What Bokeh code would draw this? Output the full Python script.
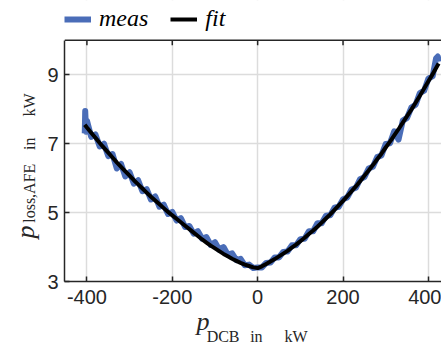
from bokeh.plotting import figure
from bokeh.models import (Range1d, LinearAxis, Legend, LegendItem, FixedTicker, Span,
                          BoxAnnotation, NumeralTickFormatter)
from bokeh.embed import file_html
from bokeh.resources import INLINE

# ---- data ----
meas_p = [-405, -404, -402, -400, -390, -380, -370, -360, -350, -340, -330, -320, -310, -300,
          -290, -280, -270, -260, -250, -240, -230, -220, -210, -200, -190, -180, -170, -160,
          -150, -140, -130, -120, -110, -100, -90, -80, -70, -60, -50, -40, -30, -20, -10, 0,
          10, 20, 30, 40, 50, 60, 70, 80, 90, 100, 110, 120, 130, 140, 150, 160, 170, 180, 190,
          200, 210, 220, 230, 240, 250, 260, 270, 280, 290, 300, 310, 320, 330, 340, 350, 360,
          370, 380, 390, 400, 410, 418, 422, 424]
meas_v = [7.30, 7.95, 7.35, 7.67, 7.20, 7.27, 6.92, 7.00, 6.64, 6.70, 6.28, 6.41, 6.05, 6.17,
          5.84, 5.94, 5.62, 5.68, 5.38, 5.47, 5.17, 5.23, 4.96, 5.02, 4.77, 4.84, 4.58, 4.61,
          4.39, 4.46, 4.24, 4.29, 4.06, 4.14, 3.92, 4.00, 3.78, 3.82, 3.62, 3.66, 3.47, 3.49,
          3.39, 3.41, 3.41, 3.54, 3.55, 3.70, 3.70, 3.86, 3.87, 4.05, 4.05, 4.23, 4.24, 4.46,
          4.46, 4.69, 4.69, 4.91, 4.92, 5.14, 5.17, 5.39, 5.44, 5.67, 5.72, 5.97, 6.03, 6.28,
          6.33, 6.61, 6.66, 6.99, 7.01, 7.36, 7.12, 7.67, 7.75, 8.05, 8.13, 8.47, 8.54, 8.89,
          8.96, 9.48, 9.53, 9.38]

fit_p = [-405, -400, -390, -380, -370, -360, -350, -340, -330, -320, -310, -300, -290, -280,
         -270, -260, -250, -240, -230, -220, -210, -200, -190, -180, -170, -160, -150, -140,
         -130, -120, -110, -100, -90, -80, -70, -60, -50, -40, -30, -20, -10, 0, 10, 20, 30,
         40, 50, 60, 70, 80, 90, 100, 110, 120, 130, 140, 150, 160, 170, 180, 190, 200, 210,
         220, 230, 240, 250, 260, 270, 280, 290, 300, 310, 320, 330, 340, 350, 360, 370, 380,
         390, 400, 410, 420, 424]
fit_v = [7.55, 7.47, 7.32, 7.17, 7.02, 6.88, 6.74, 6.60, 6.46, 6.33, 6.20, 6.07, 5.94, 5.82,
         5.70, 5.58, 5.46, 5.35, 5.24, 5.13, 5.02, 4.92, 4.82, 4.72, 4.62, 4.52, 4.42, 4.32,
         4.22, 4.13, 4.04, 3.96, 3.88, 3.80, 3.73, 3.66, 3.60, 3.54, 3.49, 3.45, 3.41, 3.39,
         3.44, 3.51, 3.58, 3.65, 3.73, 3.81, 3.89, 3.98, 4.07, 4.17, 4.27, 4.38, 4.48, 4.59,
         4.71, 4.83, 4.95, 5.08, 5.21, 5.34, 5.48, 5.62, 5.76, 5.91, 6.07, 6.22, 6.38, 6.55,
         6.71, 6.89, 7.06, 7.24, 7.42, 7.61, 7.80, 7.99, 8.19, 8.39, 8.60, 8.81, 9.02, 9.24,
         9.33]

x_ticks = [-400, -200, 0, 200, 400]
y_ticks = [3, 5, 7, 9]
y_lo, y_hi = 3, 10          # plotted value range of the axes box

# axis-title pieces: {position along the axis: text}
xlab_main = {-128: "p"}
xlab_sub = {-81: "DCB", -3: "in", 90: "kW"}
ylab_main = {4.4375: "p"}
ylab_sub = {5.5625: "loss,AFE", 7.0: "in", 8.125: "kW"}

BLUE = "#4a6db8"
DARK = "#262626"
TICK_FONT = "Liberation Sans"
SERIF = "Liberation Serif"

H, BOTTOM, TOP_GAP = 347, 65, 40
px_per_unit = (H - BOTTOM - TOP_GAP) / (y_hi - y_lo)
y_top = y_hi + TOP_GAP / px_per_unit      # frame reaches up to hold the legend

p = figure(width=441, height=H, output_backend="svg", toolbar_location=None,
           x_range=Range1d(-452.5, 430.7), y_range=Range1d(y_lo, y_top),
           min_border_left=64, min_border_right=0, min_border_top=0, min_border_bottom=BOTTOM)
p.outline_line_color = None
p.background_fill_color = "white"

r_meas = p.line(meas_p, meas_v, line_color=BLUE, line_width=6, line_join="round")
r_fit = p.line(fit_p, fit_v, line_color="black", line_width=4, line_join="round")

for ax in (p.xaxis[0], p.yaxis[0]):
    ax.axis_line_color = DARK
    ax.axis_line_width = 1.5
    ax.major_tick_line_color = DARK
    ax.major_tick_line_width = 1.5
    ax.major_tick_in = 5
    ax.major_tick_out = 0
    ax.minor_tick_in = 0
    ax.minor_tick_out = 0
    ax.major_label_text_font = TICK_FONT
    ax.major_label_text_font_size = "20px"
    ax.major_label_text_color = DARK

p.xaxis.ticker = FixedTicker(ticks=x_ticks)
p.xaxis.formatter = NumeralTickFormatter(format="0")
p.yaxis.ticker = FixedTicker(ticks=y_ticks)
p.yaxis.bounds = (y_lo, y_hi)
p.xaxis.major_label_standoff = 8
p.yaxis.major_label_standoff = 6

p.xgrid.ticker = FixedTicker(ticks=x_ticks)
p.ygrid.ticker = FixedTicker(ticks=y_ticks)
p.grid.grid_line_color = "#dcdcdc"
p.grid.grid_line_width = 1.5

# blank strip above the axes box (legend area) and the top edge with inward ticks
p.add_layout(BoxAnnotation(bottom=y_hi, fill_color="white", fill_alpha=1.0, line_alpha=0))
p.add_layout(Span(location=y_hi, dimension="width", line_color=DARK, line_width=1.5))
p.segment(x0=x_ticks, y0=[y_hi] * len(x_ticks), x1=x_ticks,
          y1=[y_hi - 5 / px_per_unit] * len(x_ticks), line_color=DARK, line_width=1.5)


def text_axis(labels, size, style, standoff, orientation="horizontal"):
    ticks = list(labels.keys())
    return LinearAxis(ticker=FixedTicker(ticks=ticks), major_label_overrides=labels,
                      axis_line_color=None, major_tick_line_color=None,
                      minor_tick_line_color=None, major_tick_in=0, major_tick_out=0,
                      minor_tick_in=0, minor_tick_out=0,
                      major_label_text_font=SERIF, major_label_text_font_size=size,
                      major_label_text_font_style=style, major_label_text_color=DARK,
                      major_label_standoff=standoff, major_label_orientation=orientation)

# x title: p_DCB in kW
p.add_layout(text_axis(xlab_main, "26px", "italic", 0), "below")
p.add_layout(text_axis(xlab_sub, "16px", "normal", -11), "below")
# y title: p_loss,AFE in kW
p.add_layout(text_axis(ylab_sub, "16px", "normal", 6, "parallel"), "left")
p.add_layout(text_axis(ylab_main, "26px", "italic", -22, "parallel"), "left")

legend = Legend(items=[LegendItem(label="meas", renderers=[r_meas]),
                       LegendItem(label="fit", renderers=[r_fit])],
                orientation="horizontal", location=(0, 249),
                border_line_color=None, background_fill_alpha=0,
                padding=0, margin=0, spacing=22, label_standoff=8,
                glyph_width=27, glyph_height=20,
                label_text_font=SERIF, label_text_font_style="italic",
                label_text_font_size="24px", label_text_color="black")
p.add_layout(legend)

open("out.html", "w").write(file_html(p, INLINE))
